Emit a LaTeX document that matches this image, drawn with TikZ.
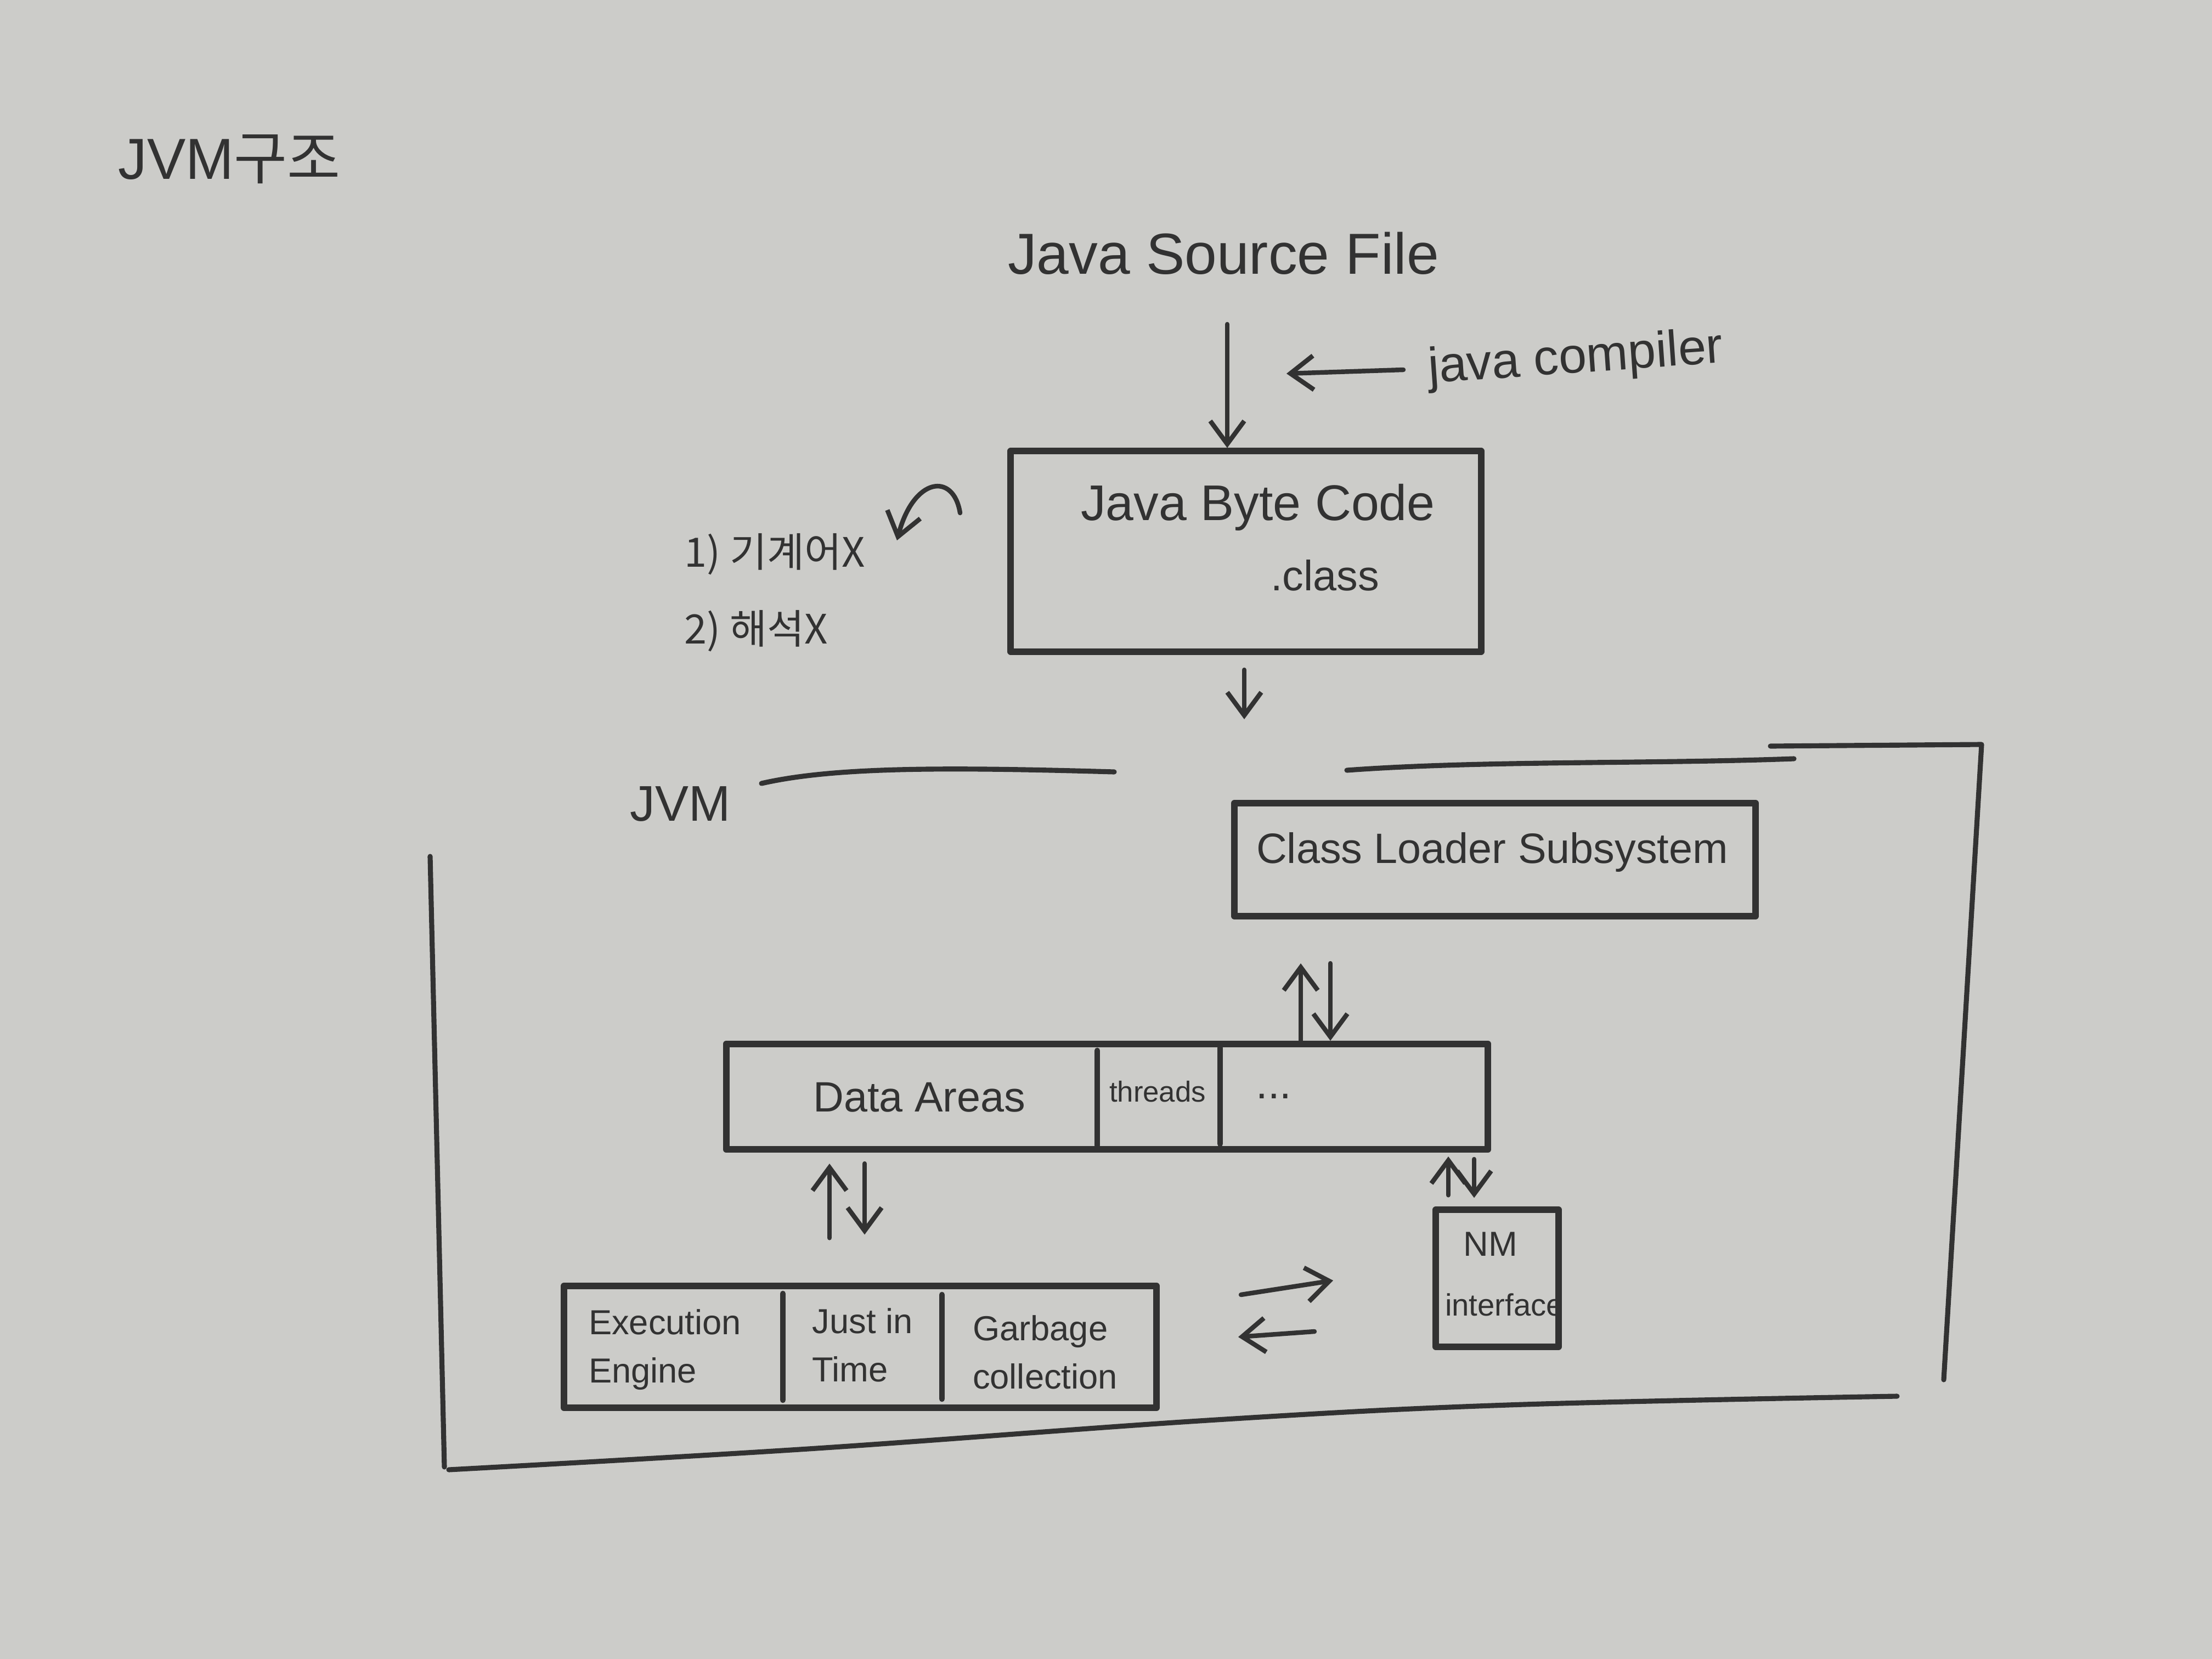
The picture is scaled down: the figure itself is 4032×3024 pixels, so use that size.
\documentclass[tikz,border=0pt]{standalone}
\usepackage{fontspec}
\setmainfont{Liberation Sans}
\newfontfamily\kr{Noto Sans CJK KR}
\usetikzlibrary{arrows.meta}
\definecolor{paper}{RGB}{204,204,201}
\definecolor{ink}{RGB}{50,50,50}
\begin{document}
\begin{tikzpicture}[x=0.01cm,y=-0.01cm,
  box/.style={draw=ink, line width=3.4pt, line join=round, inner sep=0pt},
  divider/.style={draw=ink, line width=3pt, line cap=round},
  arr/.style={draw=ink, line width=2.4pt, line cap=round,
    -{Straight Barb[length=0.42cm,width=0.62cm,line width=2.4pt]}},
  frame/.style={draw=ink, line width=2.6pt, line cap=round, line join=round},
  lbl/.style={text=ink, inner sep=0pt},
  f30/.style={font=\fontsize{30pt}{36pt}\selectfont},
  f26/.style={font=\fontsize{26pt}{31pt}\selectfont},
  f22/.style={font=\fontsize{22pt}{27pt}\selectfont},
  f20/.style={font=\kr\fontsize{21pt}{25pt}\selectfont},
  f18/.style={font=\fontsize{18pt}{25pt}\selectfont},
  f16/.style={font=\fontsize{16pt}{20pt}\selectfont},
  f15/.style={font=\fontsize{15pt}{18pt}\selectfont}]
\path[fill=paper, use as bounding box] (0,0) rectangle (4032,3024);

% title
\node[lbl,f30] (title) at (418,290) {JVM{\kr 구조}};

% source and compiler
\node[lbl,f30] (src) at (2230,462) {Java Source File};
\node[lbl,f26,rotate=4] (comp) at (2872,656) {java compiler};

% byte code box
\node[box, minimum width=8.57cm, minimum height=3.65cm] (bc) at (2271,1005) {};
\node[lbl,f26] (bctext) at (2293,925) {Java Byte Code};
\node[lbl,f22] (cls) at (2415,1049) {.class};

\coordinate (a1) at (2237,591);
\draw[arr] (a1) -- (a1 |- bc.north);
\coordinate (ca) at (2558,674);
\coordinate (cb) at (2345,681);
\draw[arr] (ca) -- (cb);

% korean notes
\node[lbl,f20,anchor=west] (k1) at (1247,1010) {1) 기계어X};
\node[lbl,f20,anchor=west] (k2) at (1247,1150) {2) 해석X};
\coordinate (cs) at (1750,935);
\coordinate (ce) at (1635,985);
\draw[arr] (cs) .. controls (1738,860) and (1665,870) .. (ce);

% down arrow into JVM
\coordinate (d1) at (2268,1221);
\coordinate (d2) at (2268,1311);
\draw[arr] (d1) -- (d2);

% JVM frame
\node[lbl,f26] (jvm) at (1240,1465) {JVM};
\draw[frame] (1388,1428) .. controls (1520,1398) and (1720,1398) .. (2031,1407);
\draw[frame] (2455,1404) .. controls (2700,1386) and (3000,1393) .. (3270,1383);
\draw[frame] (3227,1360) -- (3612,1357) -- (3543,2515);
\draw[frame] (784,1561) -- (810,2674);
\draw[frame] plot[smooth, tension=0.6] coordinates {(818,2679) (1473,2641) (2201,2589) (2748,2561) (3458,2545)};

% class loader
\node[box, minimum width=9.5cm, minimum height=2.05cm] (cl) at (2725,1567) {};
\node[lbl,f22] (cltext) at (2720,1553) {Class Loader Subsystem};

% data areas
\node[box, minimum width=13.88cm, minimum height=1.92cm] (da) at (2018,1999) {};
\draw[divider] (2000,1915) -- (2000,2088);
\draw[divider] (2224,1910) -- (2224,2085);
\node[lbl,f22] (datext) at (1676,2000) {Data Areas};
\node[lbl,f15] (thr) at (2110,1990) {threads};
\node[lbl,f22] (dots) at (2322,1998) {...};

% arrows class loader <-> data areas
\coordinate (u1) at (2371,1756);
\coordinate (v1) at (2425,1756);
\draw[arr] (da.north -| u1) -- (u1);
\draw[arr] (v1) -- (da.north -| v1);

% execution engine box
\node[box, minimum width=10.8cm, minimum height=2.21cm] (eb) at (1568,2455) {};
\draw[divider] (1427,2358) -- (1427,2552);
\draw[divider] (1717,2360) -- (1717,2550);
\node[lbl,f18,align=left] (exe) at (1212,2460) {Execution\\Engine};
\node[lbl,f18,align=left] (jit) at (1572,2452) {Just in\\Time};
\node[lbl,f18,align=left] (gc) at (1905,2465) {Garbage\\collection};

% arrows data areas <-> execution engine
\coordinate (u2) at (1512,2121);
\coordinate (v2) at (1576,2121);
\draw[arr] ([yshift=0.82cm]eb.north -| u2) -- (u2);
\draw[arr] (v2) -- ([yshift=0.88cm]eb.north -| v2);

% native method interface
\node[box, minimum width=2.24cm, minimum height=2.49cm] (nm) at (2729,2330) {};
\node[lbl,f18] (nmt) at (2717,2268) {NM};
\node[lbl,f16] (inter) at (2742,2378) {interface};

% arrows data areas <-> NM
\coordinate (u3) at (2640,2108);
\coordinate (v3) at (2687,2113);
\draw[arr] ([yshift=0.21cm]nm.north -| u3) -- (u3);
\draw[arr] (v3) -- ([yshift=0.16cm]nm.north -| v3);

% arrows execution engine <-> NM
\coordinate (r1) at (2262,2360);
\coordinate (r2) at (2430,2334);
\coordinate (l1) at (2396,2427);
\coordinate (l2) at (2257,2437);
\draw[arr] (r1) -- (r2);
\draw[arr] (l1) -- (l2);
\end{tikzpicture}
\end{document}
